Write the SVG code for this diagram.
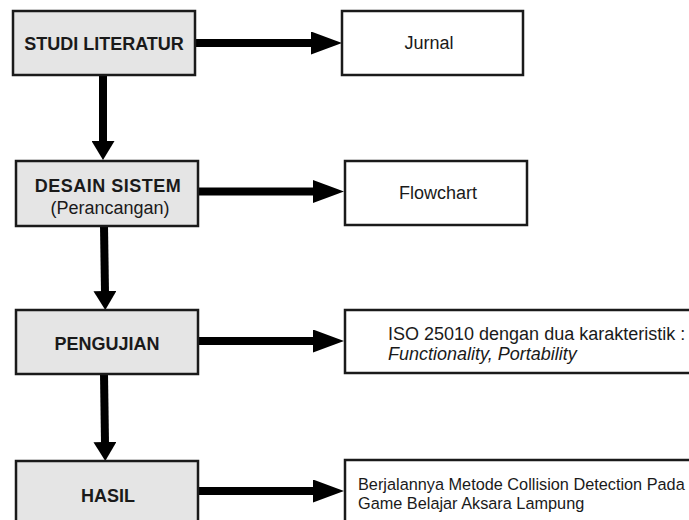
<svg xmlns="http://www.w3.org/2000/svg" width="689" height="520" viewBox="0 0 689 520">
<style>
.step{fill:#e5e5e5;stroke:#1a1a1a;stroke-width:2.5}
.out{fill:#ffffff;stroke:#1a1a1a;stroke-width:2.5}
.lbl{font-family:"Liberation Sans",Arial,sans-serif;font-size:18px;fill:#1a1a1a}
.sm{font-size:16.3px}
.b{font-weight:bold}
.c{text-anchor:middle}
.it{font-style:italic}
.conn{stroke:#000;stroke-width:8;fill:none}
</style>
<defs>
<marker id="ah" viewBox="0 0 31 23" markerWidth="31" markerHeight="23" refX="1" refY="11.5" orient="auto" markerUnits="userSpaceOnUse"><path d="M0,0 L31,11.5 L0,23 Z" fill="#000"/></marker>
<marker id="av" viewBox="0 0 19 23" markerWidth="19" markerHeight="23" refX="1" refY="11.5" orient="auto" markerUnits="userSpaceOnUse"><path d="M0,0 L19,11.5 L0,23 Z" fill="#000"/></marker>
</defs>
<rect width="689" height="520" fill="#fff"/>
<g id="connectors">
<line class="conn" x1="195" y1="43" x2="312" y2="43" marker-end="url(#ah)"/>
<line class="conn" x1="198" y1="191.5" x2="314" y2="191.5" marker-end="url(#ah)"/>
<line class="conn" x1="198" y1="341" x2="314" y2="341" marker-end="url(#ah)"/>
<line class="conn" x1="198" y1="491" x2="314" y2="491" marker-end="url(#ah)"/>
<line class="conn" x1="103" y1="75" x2="103" y2="142" marker-end="url(#av)"/>
<line class="conn" x1="104" y1="226" x2="105" y2="292" marker-end="url(#av)"/>
<line class="conn" x1="104" y1="374" x2="105" y2="443" marker-end="url(#av)"/>
</g>
<g id="studi">
<rect class="step" x="13" y="11" width="182" height="64"/>
<text class="lbl b c" x="104" y="49.5">STUDI LITERATUR</text>
</g>
<g id="jurnal">
<rect class="out" x="342" y="11" width="181" height="64"/>
<text class="lbl c" x="429" y="49">Jurnal</text>
</g>
<g id="desain">
<rect class="step" x="16" y="161" width="182" height="65"/>
<text class="lbl b c" x="108" y="192" letter-spacing="0.5">DESAIN SISTEM</text>
<text class="lbl c" x="110" y="214">(Perancangan)</text>
</g>
<g id="flowchart">
<rect class="out" x="345" y="161" width="182" height="64"/>
<text class="lbl c" x="438" y="199">Flowchart</text>
</g>
<g id="pengujian">
<rect class="step" x="16" y="310" width="182" height="64"/>
<text class="lbl b c" x="107" y="350">PENGUJIAN</text>
</g>
<g id="iso">
<rect class="out" x="345" y="310" width="360" height="63"/>
<text class="lbl" x="388" y="340">ISO 25010 dengan dua karakteristik :</text>
<text class="lbl it" x="388" y="360">Functionality, Portability</text>
</g>
<g id="hasil">
<rect class="step" x="16" y="461" width="182" height="80"/>
<text class="lbl b c" x="108" y="502">HASIL</text>
</g>
<g id="hasil-out">
<rect class="out" x="345" y="460" width="360" height="80"/>
<text class="lbl sm" x="358" y="490">Berjalannya Metode Collision Detection Pada</text>
<text class="lbl sm" x="358" y="509">Game Belajar Aksara Lampung</text>
</g>
</svg>
